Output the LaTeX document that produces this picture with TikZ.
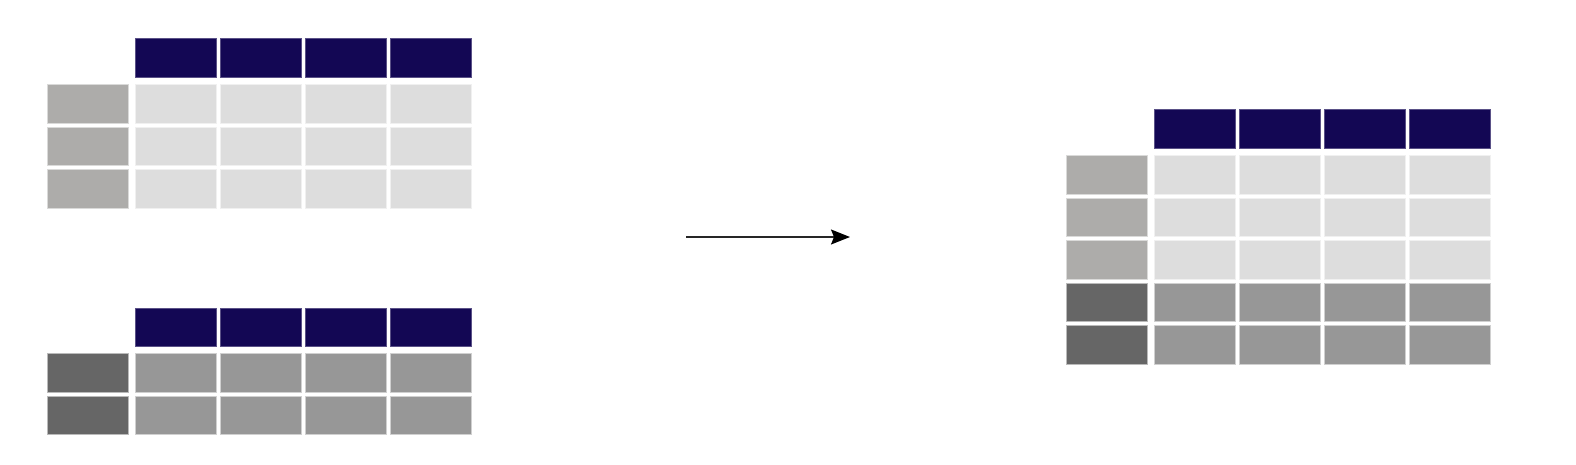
\documentclass[tikz,border=0pt]{standalone}
\usetikzlibrary{arrows.meta}
\definecolor{hdr}{HTML}{130754}
\definecolor{idxL}{HTML}{ADACAA}
\definecolor{datL}{HTML}{DDDDDD}
\definecolor{idxD}{HTML}{666666}
\definecolor{datD}{HTML}{979797}
\begin{document}
\begin{tikzpicture}[x=1pt,y=-1pt,
  cell/.style={rectangle, inner sep=0pt, outer sep=0pt, minimum width=80.7pt, minimum height=38.6pt, line width=1pt, anchor=north west},
  hdrcell/.style={cell, fill=hdr, draw=hdr!70!white},
  idxlight/.style={cell, fill=idxL, draw=idxL!45!white},
  datlight/.style={cell, fill=datL, draw=datL!45!white},
  idxdark/.style={cell, fill=idxD, draw=idxD!45!white},
  datdark/.style={cell, fill=datD, draw=datD!45!white},
  arrowline/.style={line width=1.5pt, draw=black!85, -{Stealth[length=19pt,width=15pt,inset=3pt,fill=black,color=black]}}]
\useasboundingbox (0,0) rectangle (1576,464);
% top-left table
\foreach \c in {0,...,3} {
  \node[hdrcell] (A-h\c) at ({135.5+85*\c},38.8) {};
}
\foreach \r in {0,1,2} {
  \node[idxlight] (A-i\r) at (47.5,{84.5+42.6*\r}) {};
  \foreach \c in {0,...,3} {
    \node[datlight] (A-\r-\c) at ({135.5+85*\c},{84.5+42.6*\r}) {};
  }
}
% bottom-left table
\foreach \c in {0,...,3} {
  \node[hdrcell] (B-h\c) at ({135.5+85*\c},308.2) {};
}
\foreach \r in {0,1} {
  \node[idxdark] (B-i\r) at (47.5,{353.8+42.4*\r}) {};
  \foreach \c in {0,...,3} {
    \node[datdark] (B-\r-\c) at ({135.5+85*\c},{353.8+42.4*\r}) {};
  }
}
% right table
\foreach \c in {0,...,3} {
  \node[hdrcell] (C-h\c) at ({1154.8+85*\c},109.8) {};
}
\foreach \r in {0,1,2} {
  \node[idxlight] (C-i\r) at (1066.5,{155.8+42.4*\r}) {};
  \foreach \c in {0,...,3} {
    \node[datlight] (C-\r-\c) at ({1154.8+85*\c},{155.8+42.4*\r}) {};
  }
}
\foreach \r in {3,4} {
  \node[idxdark] (C-i\r) at (1066.5,{155.8+42.4*\r}) {};
  \foreach \c in {0,...,3} {
    \node[datdark] (C-\r-\c) at ({1154.8+85*\c},{155.8+42.4*\r}) {};
  }
}
% arrow
\coordinate (arrStart) at (686,237);
\coordinate (arrEnd) at (850,237);
\draw[arrowline] (arrStart) -- (arrEnd);
\end{tikzpicture}
\end{document}
